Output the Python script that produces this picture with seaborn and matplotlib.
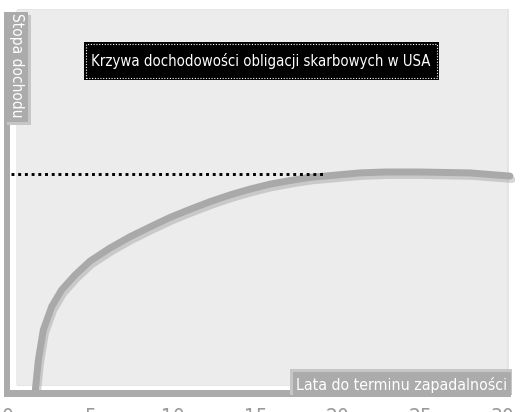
"""Yield curve sketch: Krzywa dochodowości obligacji skarbowych w USA."""

import matplotlib
matplotlib.use("Agg")
import matplotlib.pyplot as plt
import matplotlib.patheffects as pe
from matplotlib import font_manager as fm
from matplotlib.patches import Rectangle
import seaborn as sns

# data (years to maturity, yield in %)
years = [1.58, 1.64, 1.84, 2.14, 2.65, 3.25, 4.06, 4.97, 6.18, 7.39, 8.61, 9.82,
         11.03, 12.24, 13.45, 14.67, 15.88, 17.09, 18.30, 19.82, 21.33, 22.85,
         24.97, 28.0, 30.42]
yields = [-0.07, 0.09, 0.82, 1.49, 2.01, 2.38, 2.71, 3.02, 3.31, 3.56, 3.78, 3.99,
          4.17, 4.34, 4.49, 4.62, 4.73, 4.81, 4.88, 4.93, 4.98, 5.0,
          5.0, 4.98, 4.91]
ref_level = 4.96
ref_end = 19.2
x_ticks = [0, 5, 10, 15, 20, 25, 30]
title = "Krzywa dochodowości obligacji skarbowych w USA"
x_label = "Lata do terminu zapadalności"
y_label = "Stopa dochodu"

W, H = 523, 412
GRAY = "#ababab"

sns.set_style("white")
plt.rcParams["font.family"] = ["Roboto", "DejaVu Sans"]


def pick_narrow_font():
    """Look for any condensed / narrow face that is installed."""
    good = []
    for f in fm.fontManager.ttflist:
        name = (f.name + " " + f.fname).lower()
        if "italic" in name or "oblique" in name:
            continue
        if "condensed" in name or "narrow" in name or str(f.stretch) in ("condensed", "semi-condensed", "extra-condensed"):
            score = 0 if f.weight in (400, 500, "normal", "regular", "medium") else 1
            good.append((score, f.fname))
    if good:
        good.sort()
        return fm.FontProperties(fname=good[0][1])
    return fm.FontProperties(family=["Roboto", "DejaVu Sans"])


font = pick_narrow_font()

fig = plt.figure(figsize=(W / 100, H / 100), dpi=100)
ax = fig.add_axes([4 / W, 1 - 397 / H, 511 / W, 397 / H])
ax.set_facecolor("none")
renderer = fig.canvas.get_renderer()


def px_box(x0, y0, x1, y1, **kw):
    """Rectangle given in pixel coords (origin top-left)."""
    r = Rectangle((x0 / W, 1 - y1 / H), (x1 - x0) / W, (y1 - y0) / H,
                  transform=fig.transFigure, clip_on=False, **kw)
    ax.add_patch(r)
    return r


def fit_text(x, y, s, length, max_size, rotation=0, **kw):
    """Put text centred at pixel (x, y) and shrink it to the given length."""
    t = fig.text(x / W, 1 - y / H, s, rotation=rotation, ha="center", va="center",
                 fontproperties=font.copy(), fontsize=max_size, **kw)
    bb = t.get_window_extent(renderer)
    cur = bb.height if rotation else bb.width
    if cur > length:
        t.set_fontsize(max_size * length / cur)
    return t


# background panel with a faint edge
px_box(17, 9, 509, 386, facecolor="#e5e5e5", edgecolor="none", zorder=0)
px_box(16, 10, 507, 385, facecolor="#ececec", edgecolor="none", zorder=0.1)

# the curve
sns.lineplot(x=years, y=yields, ax=ax, sort=False, estimator=None,
             color="#a9a9a9", linewidth=5.0, zorder=3,
             path_effects=[pe.SimpleLineShadow(offset=(1.5, -2.5), shadow_color="#8a8a8a", alpha=0.35),
                           pe.Normal()])
ax.plot([0.2, ref_end], [ref_level, ref_level], color="black",
        linewidth=2.1, linestyle=(0, (1, 1.3)), zorder=4)

# axis bars
px_box(4, 12, 10, 397, facecolor=GRAY, edgecolor="none", zorder=5)
px_box(4, 390, 511, 397, facecolor=GRAY, edgecolor="none", zorder=5)

# y label box
px_box(7, 15, 31, 125, facecolor="#c6c6c6", edgecolor="none", zorder=5.5)
px_box(4, 12, 28, 122, facecolor=GRAY, edgecolor="none", zorder=6)
fit_text(16.5, 65, y_label, 104, 15, rotation=270, color="white", zorder=7)

# x label box
px_box(290, 369, 512, 395, facecolor="#c6c6c6", edgecolor="none", zorder=5.5)
px_box(293, 372, 511, 397, facecolor=GRAY, edgecolor="none", zorder=6)
fit_text(402, 385, x_label, 212, 15, color="white", zorder=7)

# title box
px_box(84, 42, 439, 80, facecolor="black", edgecolor="none", zorder=6)
px_box(86, 44, 437, 78, facecolor="none", edgecolor="white", linewidth=0.8,
       linestyle=(0, (1, 1.5)), zorder=6.5)
fit_text(261, 61, title, 338, 15, color="white", zorder=7)

ax.set_xlim(-4 / 16.5, 507 / 16.5)
ax.set_ylim(0, 397 / 45)
ax.set_xticks(x_ticks)
ax.set_xticklabels([str(v) for v in x_ticks], fontproperties=font.copy(),
                   fontsize=15, color="#9a9a9a")
ax.set_yticks([])
ax.tick_params(axis="x", length=0, pad=8)
for s in ax.spines.values():
    s.set_visible(False)

fig.savefig("out.png", dpi=100, facecolor="white")
